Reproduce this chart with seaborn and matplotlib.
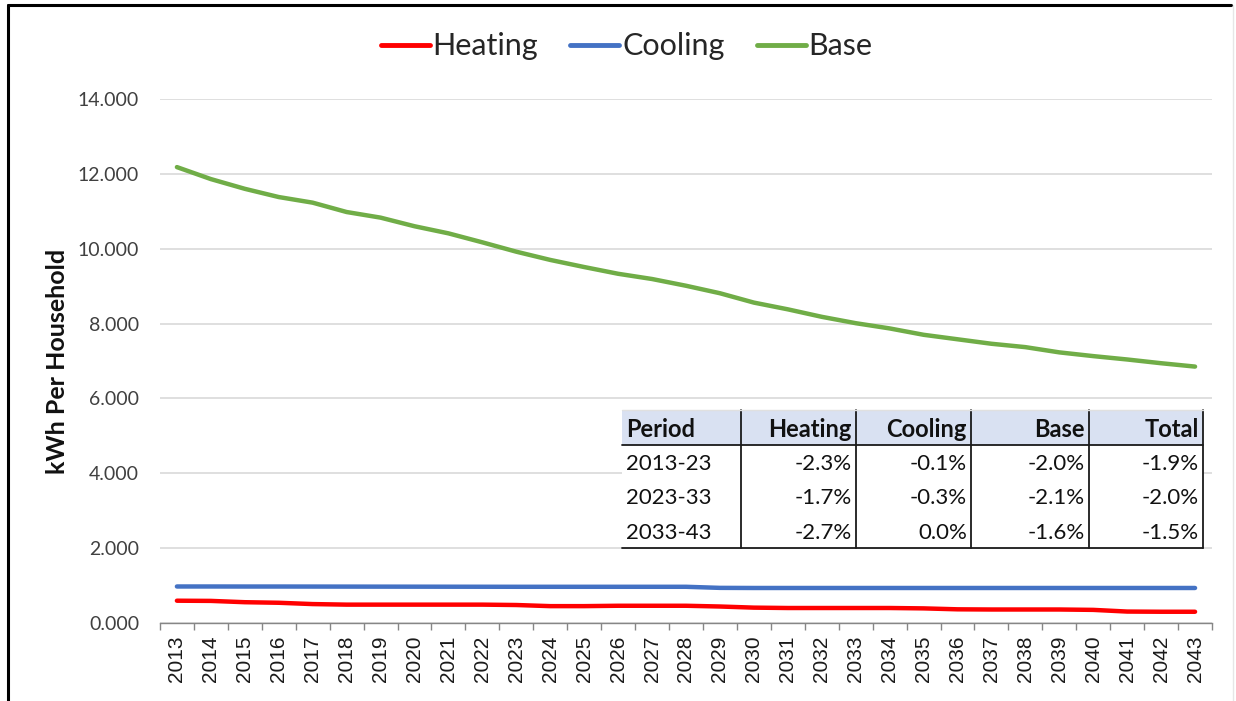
import numpy as np
import pandas as pd
import matplotlib.pyplot as plt
import seaborn as sns
from matplotlib.lines import Line2D
from matplotlib.ticker import FuncFormatter, FixedLocator

# kWh per household by year
years = list(range(2013, 2044))
heating = [595, 590, 555, 540, 505, 490, 490, 490, 490, 490, 480, 450, 450, 460, 460, 460,
           440, 410, 400, 400, 400, 400, 390, 365, 360, 360, 360, 350, 305, 300, 300]
cooling = [975, 975, 974, 974, 973, 972, 971, 970, 969, 968, 967, 967, 967, 967, 967, 967,
           938, 935, 935, 935, 935, 935, 935, 935, 935, 935, 935, 935, 935, 935, 935]
base = [12180, 11860, 11600, 11380, 11230, 10980, 10830, 10600, 10410, 10170, 9920,
        9700, 9510, 9330, 9190, 9010, 8810, 8560, 8380, 8180, 8010, 7870, 7700, 7580,
        7460, 7370, 7230, 7130, 7040, 6940, 6850]

# growth table
table_cols = ["Period", "Heating", "Cooling", "Base", "Total"]
periods = ["2013-23", "2023-33", "2033-43"]
heating_g = ["-2.3%", "-1.7%", "-2.7%"]
cooling_g = ["-0.1%", "-0.3%", "0.0%"]
base_g = ["-2.0%", "-2.1%", "-1.6%"]
total_g = ["-1.9%", "-2.0%", "-1.5%"]

series_colors = {"Heating": "#FF0000", "Cooling": "#4472C4", "Base": "#70AD47"}

df = pd.DataFrame({"Year": years, "Heating": heating, "Cooling": cooling, "Base": base})
long_df = df.melt(id_vars="Year", var_name="Series", value_name="kWh")

sns.set_theme(style="white")
plt.rcParams['font.family'] = ['Lato', 'DejaVu Sans']

fig = plt.figure(figsize=(12.36, 7.01), dpi=100)
ax = fig.add_axes([0.1294, 0.1113, 0.8512, 0.7475])

sns.lineplot(data=long_df, x="Year", y="kWh", hue="Series", palette=series_colors,
             linewidth=3.2, ax=ax, legend=False)

ax.set_ylim(0, 14000)
ax.set_xlim(years[0] - 0.5, years[-1] + 0.5)
ax.set_yticks(np.arange(0, 14001, 2000))
ax.yaxis.set_major_formatter(FuncFormatter(lambda v, p: f"{v/1000:.3f}"))
ax.grid(axis='y', color='#D9D9D9', linewidth=1.2)
ax.set_axisbelow(True)

ax.xaxis.set_major_locator(FixedLocator(years))
ax.xaxis.set_minor_locator(FixedLocator(np.arange(years[0] - 0.5, years[-1] + 1, 1.0)))
ax.set_xticklabels([str(y) for y in years], rotation=90, fontsize=15,
                   family=['Liberation Sans', 'DejaVu Sans'], color='#1a1a1a')
ax.tick_params(axis='x', which='major', length=0, pad=9)
ax.tick_params(axis='x', which='minor', length=5, width=1, color='#868686', direction='out',
               bottom=True)
ax.tick_params(axis='y', length=0, labelsize=14, labelcolor='#404040', pad=15)

for s in ['top', 'right', 'left']:
    ax.spines[s].set_visible(False)
ax.spines['bottom'].set_color('#868686')
ax.spines['bottom'].set_linewidth(1)

ax.set_xlabel("")
ax.set_ylabel("kWh Per Household", fontsize=18, fontweight='bold', labelpad=6, color='#111111')

handles = [Line2D([0], [0], color=c, lw=3.5) for c in series_colors.values()]
fig.legend(handles, list(series_colors.keys()), loc='center', bbox_to_anchor=(0.507, 0.934),
           ncol=3, frameon=False, fontsize=22, handlelength=1.6, handletextpad=0.1,
           columnspacing=1.05, labelcolor='#262626')

# growth table
tx0, ty0, tw, th = 0.439, 0.143, 0.5524, 0.2634
cell_text = [list(r) for r in zip(periods, heating_g, cooling_g, base_g, total_g)]
col_px = [119, 115, 115, 118, 114]
col_w = [w / sum(col_px) * tw for w in col_px]
tbl = ax.table(cellText=cell_text, colLabels=table_cols, colWidths=col_w,
               bbox=[tx0, ty0, tw, th], zorder=5)
tbl.auto_set_font_size(False)
for (r, c), cell in tbl.get_celld().items():
    cell.set_linewidth(0)
    cell.PAD = 0.035
    txt = cell.get_text()
    txt.set_fontsize(16)
    txt.set_color('#111111')
    txt.set_va('center_baseline')
    cell._loc = 'left' if c == 0 else 'right'
    txt.set_ha('left' if c == 0 else 'right')
    if r == 0:
        cell.set_facecolor('#D9E1F2')
        txt.set_fontweight('bold')
        txt.set_fontsize(17)
    else:
        cell.set_facecolor('white')

# table rules
line_kw = dict(transform=ax.transAxes, color='#1a1a1a', lw=1.3, clip_on=False, zorder=7)
xe = tx0
for w in col_w:
    xe += w
    ax.plot([xe, xe], [ty0, ty0 + th], **line_kw)
row_h = th / (len(periods) + 1)
ax.plot([tx0, tx0 + tw], [ty0 + th - row_h] * 2, **line_kw)
ax.plot([tx0, tx0 + tw], [ty0, ty0], **line_kw)
ax.plot([tx0, tx0 + tw], [ty0 + th] * 2, transform=ax.transAxes, color='#E0E0E0', lw=1,
        clip_on=False, zorder=7)

# outer frame
fig.add_artist(Line2D([0.0065, 0.0065], [0.0, 0.993], color='black', lw=2.2))
fig.add_artist(Line2D([0.0065, 0.996], [0.993, 0.993], color='black', lw=2.2))
fig.add_artist(Line2D([0.9975, 0.9975], [0.0, 0.993], color='#E6E6E6', lw=1))

fig.savefig("out.png", dpi=100)
